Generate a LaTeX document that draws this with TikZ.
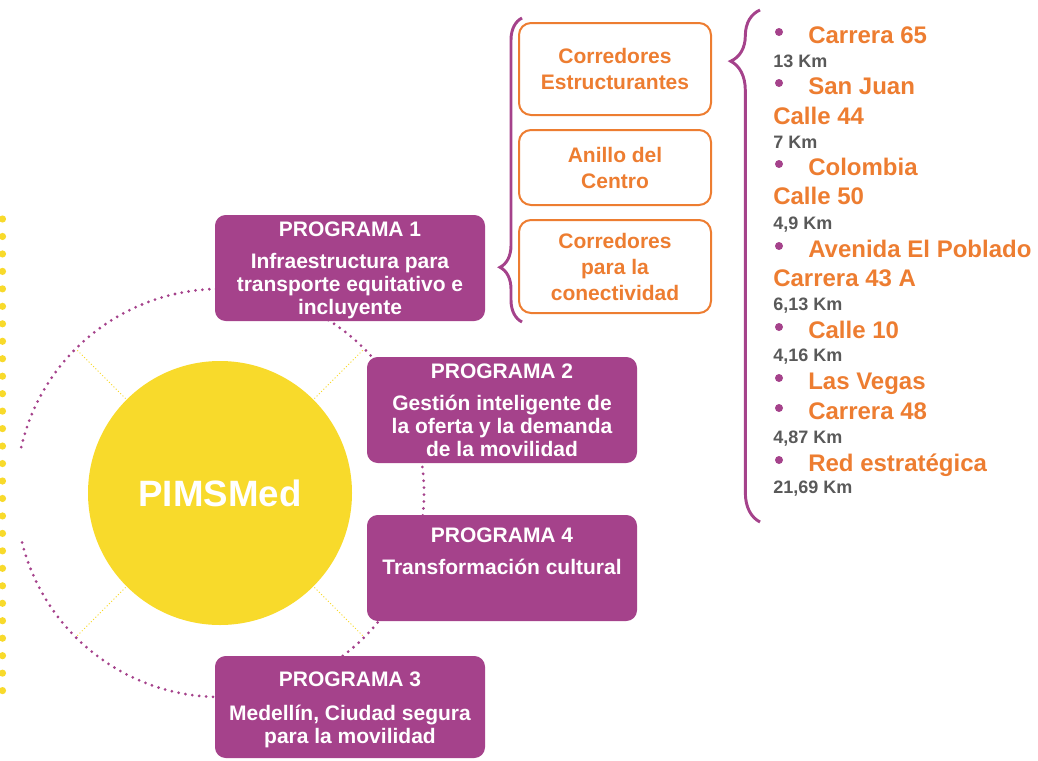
\documentclass[tikz,border=0pt]{standalone}
\usepackage{fontspec}
\setmainfont{Liberation Sans}
\usetikzlibrary{decorations.pathreplacing}
\definecolor{progpurple}{HTML}{A5428B}
\definecolor{corrorange}{HTML}{ED7D31}
\definecolor{pimsyellow}{HTML}{F8DA2B}
\definecolor{kmgray}{HTML}{595959}
\begin{document}
\begin{tikzpicture}[x=0.75pt, y=-0.75pt,
		prog/.style={fill=progpurple, rounded corners=8pt, minimum width=202.5pt, minimum height=79.5pt, inner sep=0},
		progtext/.style={anchor=north, text=white, align=center, inner sep=0, font=\fontsize{15.75}{17.25}\selectfont\bfseries},
		corr/.style={draw=corrorange, line width=1.5pt, fill=white, rounded corners=9pt, minimum width=144pt, text=corrorange, align=center, font=\fontsize{15.75}{19.5}\selectfont\bfseries},
		item/.style={anchor=base west, inner sep=0, text=corrorange, font=\fontsize{18}{20}\selectfont\bfseries},
		km/.style={anchor=base west, inner sep=0, text=kmgray, font=\fontsize{13.5}{15}\selectfont\bfseries},
		bullet/.style={circle, fill=progpurple, inner sep=0, minimum size=6pt},
		ring/.style={draw=progpurple, line width=2.3pt, line cap=round, dash pattern=on 0pt off 5.2pt},
		spoke/.style={draw=pimsyellow, line width=1.1pt, line cap=round, dash pattern=on 0pt off 2.4pt},
		ydots/.style={draw=pimsyellow, line width=5.4pt, line cap=round, dash pattern=on 0pt off 13.1pt},
		bigbrace/.style={decorate, draw=progpurple, line width=2.2pt}]
	\useasboundingbox (0,0) rectangle (1038,760);

	% yellow dotted edge and centre
	\draw[ydots] (2.5,219) -- (2.5,697);
	\node[circle, fill=pimsyellow, minimum size=198pt, inner sep=0, text=white, font=\fontsize{27.5}{30}\selectfont\bfseries] (pims) at (220,493) {PIMSMed};
	\draw[ring] (pims.center) ++(-167:204) arc[start angle=-167, end angle=167, radius=204];
	\foreach \a in {45,135,225,315}
		\draw[spoke] (pims.center) ++(\a:134) -- ++(\a:68);

	% programas
	\node[prog] (prog1) at (350,268) {};
	\node[prog] (prog2) at (502,410) {};
	\node[prog] (prog4) at (502,568) {};
	\node[prog, minimum height=76.5pt] (prog3) at (350,707) {};
	\node[progtext] (prog1text) at ([yshift=-5pt]prog1.north) {PROGRAMA 1\\[7pt]Infraestructura para\\transporte equitativo e\\incluyente};
	\node[progtext] (prog2text) at ([yshift=-5pt]prog2.north) {PROGRAMA 2\\[7pt]Gestión inteligente de\\la oferta y la demanda\\de la movilidad};
	\node[progtext] (prog4text) at ([yshift=-9.5pt]prog4.north) {PROGRAMA 4\\[7pt]Transformación cultural};
	\node[progtext] (prog3text) at ([yshift=-11.5pt]prog3.north) {PROGRAMA 3\\[8.5pt]Medellín, Ciudad segura\\para la movilidad};

	% componentes del programa 1
	\draw[bigbrace, decoration={brace, amplitude=16.5pt, aspect=0.18}] (522,322) -- (522,18);
	\node[corr, minimum height=69pt] (estruct) at (615,69) {Corredores\\Estructurantes};
	\node[corr, minimum height=56.25pt] (anillo) at (615,167.5) {Anillo del\\Centro};
	\node[corr, minimum height=69.75pt] (conect) at (615,266.5) {Corredores\\para la\\conectividad};

	% corredores estructurantes
	\draw[bigbrace, decoration={brace, amplitude=22pt, aspect=0.9}] (760,522) -- (760,10);
	\node[bullet] (b1) at (779,32) {};
	\node[item] (c65) at (808,43) {Carrera 65};
	\node[km] (km1) at (773,67) {13 Km};
	\node[bullet] (b2) at (779,83) {};
	\node[item] (sanjuan) at (808,94) {San Juan};
	\node[item] (c44) at (773,124) {Calle 44};
	\node[km] (km2) at (773,148) {7 Km};
	\node[bullet] (b3) at (779,164) {};
	\node[item] (colombia) at (808,175) {Colombia};
	\node[item] (c50) at (773,204) {Calle 50};
	\node[km] (km3) at (773,229) {4,9 Km};
	\node[bullet] (b4) at (779,246) {};
	\node[item] (poblado) at (808,257) {Avenida El Poblado};
	\node[item] (c43a) at (773,286) {Carrera 43 A};
	\node[km] (km4) at (773,310) {6,13 Km};
	\node[bullet] (b5) at (779,327) {};
	\node[item] (c10) at (808,338) {Calle 10};
	\node[km] (km5) at (773,361) {4,16 Km};
	\node[bullet] (b6) at (779,378) {};
	\node[item] (vegas) at (808,389) {Las Vegas};
	\node[bullet] (b7) at (779,408) {};
	\node[item] (c48) at (808,419) {Carrera 48};
	\node[km] (km6) at (773,443) {4,87 Km};
	\node[bullet] (b8) at (779,460) {};
	\node[item] (red) at (808,471) {Red estratégica};
	\node[km] (km7) at (773,493) {21,69 Km};
\end{tikzpicture}
\end{document}
